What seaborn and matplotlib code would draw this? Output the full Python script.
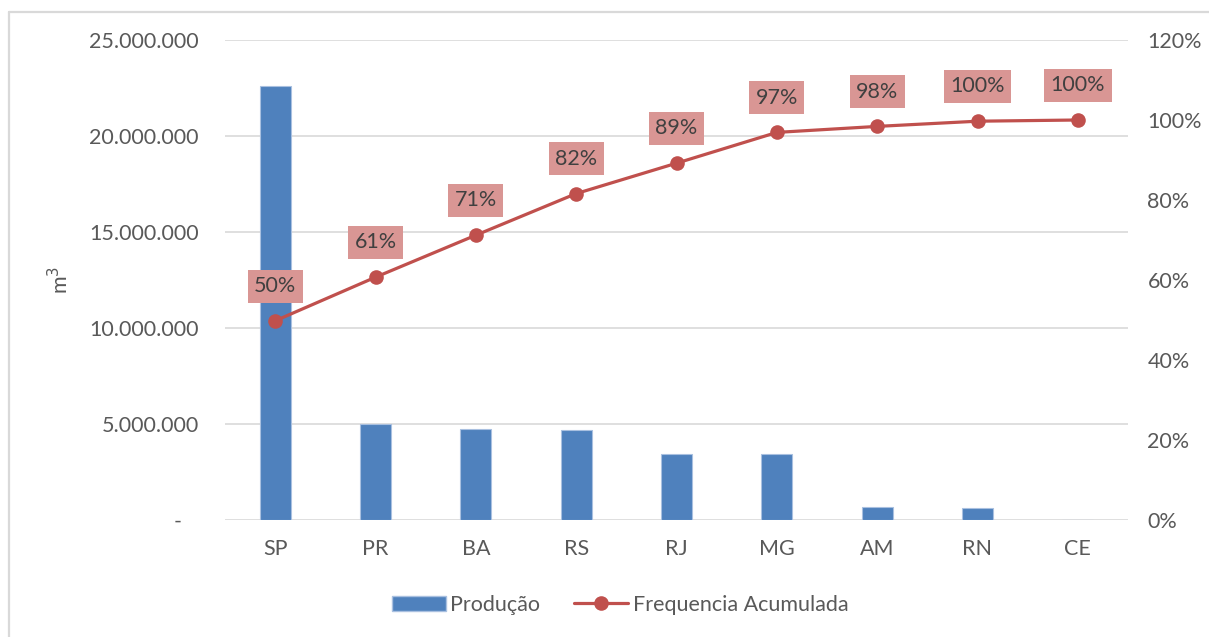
import numpy as np
import pandas as pd
import matplotlib
matplotlib.use("Agg")
import matplotlib.pyplot as plt
from matplotlib.lines import Line2D
from matplotlib.patches import Patch
from matplotlib.ticker import FixedLocator, FuncFormatter
import seaborn as sns

# Production by state (m³) and cumulative share
states = ["SP", "PR", "BA", "RS", "RJ", "MG", "AM", "RN", "CE"]
production = [22_600_000, 5_000_000, 4_750_000, 4_700_000, 3_430_000,
              3_420_000, 690_000, 620_000, 20_000]
cumulative = [0.498, 0.607, 0.712, 0.816, 0.892, 0.969, 0.984, 0.997, 1.0]

left_ticks = [0, 5_000_000, 10_000_000, 15_000_000, 20_000_000, 25_000_000]
right_ticks = [0.0, 0.2, 0.4, 0.6, 0.8, 1.0, 1.2]

BAR = "#4F81BD"
LINE = "#C0504D"
BOX = "#D99694"
TICK = "#595959"
GRID = "#D9D9D9"

sns.set_style("white")
plt.rcParams["font.family"] = ["Lato", "DejaVu Sans"]

fig = plt.figure(figsize=(12.09, 6.37), dpi=100)
ax = fig.add_axes([225 / 1209, 1 - 520 / 637, 903 / 1209, 480 / 637])

df = pd.DataFrame({"Estado": states, "Produção": production})
sns.barplot(data=df, x="Estado", y="Produção", color=BAR, width=0.31,
            edgecolor="#A9C0E0", linewidth=0.8, saturation=1, ax=ax, zorder=2)

ax.set_xlim(-0.5, len(states) - 0.5)
ax.set_ylim(0, 25_000_000)
ax.yaxis.set_major_locator(FixedLocator(left_ticks))


def fmt_m3(v, _):
    if v == 0:
        return "-   "
    return f"{int(v):,}".replace(",", ".")


ax.yaxis.set_major_formatter(FuncFormatter(fmt_m3))
ax.grid(axis="y", color=GRID, linewidth=1.2, zorder=0)
ax.set_axisbelow(True)
for s in ax.spines.values():
    s.set_visible(False)
ax.tick_params(axis="y", length=0, pad=19, labelsize=15.5, labelcolor=TICK)
ax.tick_params(axis="x", length=0, pad=14, labelsize=15.5, labelcolor=TICK)
ax.set_xlabel("")
ax.set_ylabel("m$^3$", fontsize=15.5, color=TICK, labelpad=12)

ax2 = ax.twinx()
sns.lineplot(x=np.arange(len(states)), y=cumulative, sort=False, color=LINE,
             linewidth=2.3, marker="o", markersize=10.5, markeredgewidth=0,
             ax=ax2, zorder=3)
ax2.set_ylim(0, 1.2)
ax2.yaxis.set_major_locator(FixedLocator(right_ticks))
ax2.yaxis.set_major_formatter(FuncFormatter(lambda v, _: f"{v:.0%}"))
ax2.tick_params(axis="y", length=0, pad=14, labelsize=15.5, labelcolor=TICK)
for s in ax2.spines.values():
    s.set_visible(False)
ax2.grid(False)

for i, c in enumerate(cumulative):
    ax2.annotate(f"{c:.0%}", (i, c), xytext=(0, 25), textcoords="offset points",
                 ha="center", va="center", fontsize=15.5, color="#404040",
                 bbox=dict(boxstyle="square,pad=0.3", facecolor=BOX,
                           edgecolor="none"), zorder=5)

handles = [
    Patch(facecolor=BAR, edgecolor="#A9C0E0", label="Produção"),
    Line2D([0], [0], color=LINE, linewidth=2.3, marker="o", markersize=10.5,
           markeredgewidth=0, label="Frequencia Acumulada"),
]
fig.legend(handles=handles, loc="center", bbox_to_anchor=(620 / 1209, 1 - 605 / 637),
           ncol=2, frameon=False, fontsize=15.5, labelcolor=TICK,
           handlelength=2.5, handleheight=0.7, handletextpad=0.2,
           columnspacing=1.6)

# light chart-area border
fig.add_artist(Line2D([8.5 / 1209, 8.5 / 1209], [0, 1 - 11.5 / 637],
                      transform=fig.transFigure, color=GRID, linewidth=1.6))
fig.add_artist(Line2D([8.5 / 1209, 1], [1 - 11.5 / 637, 1 - 11.5 / 637],
                      transform=fig.transFigure, color=GRID, linewidth=1.6))

fig.savefig("out.png", dpi=100, facecolor="white")
